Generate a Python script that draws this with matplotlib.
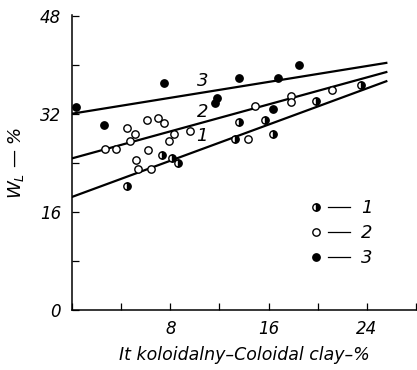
import matplotlib
matplotlib.use("Agg")
import matplotlib.pyplot as plt
from matplotlib.lines import Line2D
from matplotlib.legend_handler import HandlerTuple

plt.rcParams['font.family'] = ['DejaVu Sans']

# Series 1 (half-filled markers)
x1 = [4.5, 7.3, 8.1, 8.6, 13.3, 13.6, 15.7, 16.4, 19.9, 23.5]
y1 = [20.3, 25.4, 24.8, 24.0, 27.9, 30.8, 31.1, 28.8, 34.2, 36.8]
# Series 2 (open markers)
x2 = [2.7, 3.6, 4.5, 5.1, 4.7, 6.1, 7.0, 7.5, 8.3, 7.9, 6.2, 5.2, 5.4, 6.4,
      9.6, 14.3, 14.9, 17.8, 17.8, 21.2]
y2 = [26.4, 26.3, 29.8, 28.8, 27.7, 31.1, 31.4, 30.5, 28.8, 27.7, 26.1, 24.6,
      23.0, 23.0, 29.3, 28.0, 33.4, 35.0, 34.0, 36.0]
# Series 3 (filled markers)
x3 = [0.3, 2.6, 7.5, 11.6, 11.8, 13.6, 16.4, 16.8, 18.5]
y3 = [33.2, 30.3, 37.1, 33.9, 34.6, 37.9, 32.9, 37.9, 40.0]

# Regression lines (end points)
line_x = [0.0, 25.6]
line1_y = [18.5, 37.4]
line2_y = [24.8, 38.9]
line3_y = [32.1, 40.4]

line_labels = ['1', '2', '3']
label_x = [10.6, 10.6, 10.6]
label_y = [28.4, 32.4, 37.4]

xticks_major = [0, 8, 16, 24]
xtick_labels = ['', '8', '16', '24']
yticks_major = [0, 16, 32, 48]
ytick_labels = ['0', '16', '32', '48']

fig = plt.figure(figsize=(4.17, 3.70), dpi=100)
ax = fig.add_axes([0.173, 0.162, 0.827, 0.797])

for ly in (line1_y, line2_y, line3_y):
    ax.plot(line_x, ly, color='black', lw=1.6, zorder=2)

ms = 5.3
h1, = ax.plot(x1, y1, 'o', ms=ms, mfc='black', mec='black', mew=1.0,
              fillstyle='right', markerfacecoloralt='white', zorder=3, ls='none')
h2, = ax.plot(x2, y2, 'o', ms=ms, mfc='white', mec='black', mew=1.0, zorder=3, ls='none')
h3, = ax.plot(x3, y3, 'o', ms=ms, mfc='black', mec='black', mew=1.0, zorder=3, ls='none')

for t, lx, ly in zip(line_labels, label_x, label_y):
    ax.text(lx, ly, t, fontsize=13, style='italic', ha='center', va='center')

dash = Line2D([], [], color='black', lw=0.9)
leg = ax.legend([(h1, dash), (h2, dash), (h3, dash)], ['1', '2', '3'],
                handler_map={tuple: HandlerTuple(ndivide=None, pad=0.1)},
                loc='upper left', bbox_to_anchor=(0.675, 0.376), frameon=False,
                handlelength=2.5, handletextpad=0.6, labelspacing=0.38,
                borderaxespad=0, borderpad=0,
                prop={'size': 13, 'style': 'italic'})

ax.set_xlim(0, 28.1)
ax.set_ylim(0, 48.2)
ax.spines['top'].set_visible(False)
ax.spines['right'].set_visible(False)
for s in ('left', 'bottom'):
    ax.spines[s].set_linewidth(1.1)

ax.set_xticks(xticks_major)
ax.set_xticklabels(xtick_labels)
ax.set_xticks([4, 12, 20, 28], minor=True)
ax.set_yticks(yticks_major)
ax.set_yticklabels(ytick_labels)
ax.set_yticks([8, 24, 40], minor=True)
ax.tick_params(which='both', direction='in', length=5, width=0.9)
ax.tick_params(axis='x', pad=7, labelsize=12)
ax.tick_params(axis='y', pad=8, labelsize=12)
for lab in ax.get_xticklabels() + ax.get_yticklabels():
    lab.set_style('italic')

ax.set_xlabel('It koloidalny–Coloidal clay–%', fontsize=12.5, style='italic', labelpad=6)
ax.set_ylabel(r'$W_L$ — %', fontsize=13, style='italic', labelpad=10)

fig.savefig('out.png', dpi=100)
